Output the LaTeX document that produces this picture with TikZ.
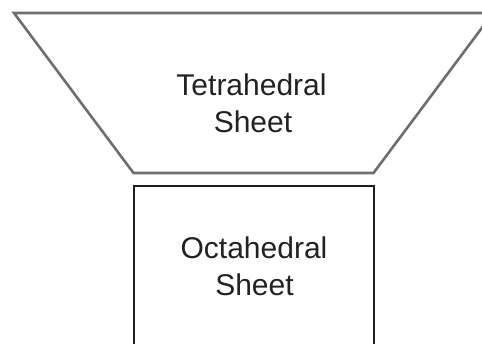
\documentclass[tikz,border=0pt]{standalone}
\usepackage{fontspec}
\setmainfont{Liberation Sans}
\definecolor{trapgray}{HTML}{6E6E6E}
\definecolor{boxblack}{HTML}{1E1E1E}
\definecolor{txt}{HTML}{222222}
\begin{document}
\begin{tikzpicture}[x=1pt,y=-1pt,
  trapline/.style={draw=trapgray,line width=2.6pt,line join=miter},
  boxline/.style={draw=boxblack,line width=2pt},
  label/.style={text=txt,font=\fontsize{30}{37}\selectfont,align=center,inner sep=0pt,anchor=base}]
\useasboundingbox (0,0) rectangle (482,343);
\clip (0,0) rectangle (482,343);
\fill[white] (0,0) rectangle (482,343);
\coordinate (tl) at (14,13);
\coordinate (tr) at (493,13);
\coordinate (br) at (373.5,173);
\coordinate (bl) at (133.5,173);
\draw[trapline] (tl) -- (tr) -- (br) -- (bl) -- cycle;
\draw[boxline] (134,186) rectangle (374,360);
\node[label] (tetra1) at (251.5,95) {Tetrahedral};
\node[label] (tetra2) at (253,132) {Sheet};
\node[label] (octa1) at (254,258) {Octahedral};
\node[label] (octa2) at (254.5,295) {Sheet};
\end{tikzpicture}
\end{document}
